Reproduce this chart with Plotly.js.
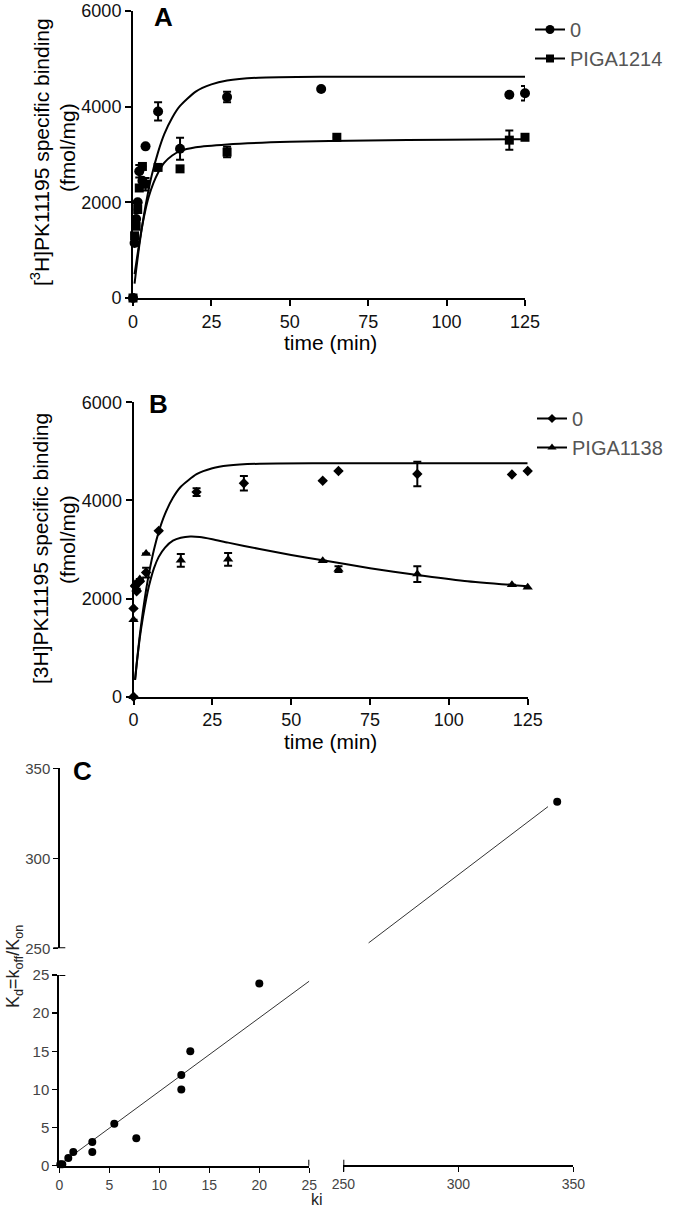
<!DOCTYPE html>
<html>
<head>
<meta charset="utf-8">
<script src="https://cdn.plot.ly/plotly-3.0.1.min.js"></script>
<style>
  html, body { margin: 0; padding: 0; background: #fff; }
  #chart { width: 675px; height: 1209px; }
</style>
</head>
<body>
<div id="chart"></div>
<script>
// ---------------- DATA ----------------
const timeTicks = [0, 25, 50, 75, 100, 125];
const bindTicks = [0, 2000, 4000, 6000];

// Panel A
const a0Name = '0';
const a0Time = [0, 0.5, 1, 1.5, 2, 3, 4, 8, 15, 30, 60, 120, 125];
const a0Bind = [0, 1150, 1650, 2000, 2650, 2450, 3170, 3900, 3120, 4200, 4370, 4250, 4280];
const a0Err  = [null, null, null, null, 130, null, null, 190, 230, 110, null, null, 150];
const a1Name = 'PIGA1214';
const a1Time = [0, 0.5, 1, 1.5, 2, 3, 4, 8, 15, 30, 65, 120, 125];
const a1Bind = [0, 1300, 1500, 1850, 2300, 2750, 2380, 2730, 2700, 3050, 3360, 3300, 3360];
const a1Err  = [null, null, null, null, null, null, 130, null, null, 110, null, 200, null];
const a0FitTime = [0.5, 1, 2, 3, 4, 5, 6, 8, 10, 12.5, 15, 20, 25, 30, 40, 60, 125];
const a0FitBind = [300, 585, 1095, 1540, 1930, 2270, 2570, 3050, 3430, 3770, 4015, 4315, 4465, 4545, 4605, 4625, 4626];
const a1FitTime = [0.5, 1, 2, 3, 4, 5, 6.5, 8, 10, 12.5, 15, 20, 30, 50, 75, 100, 125];
const a1FitBind = [500, 720, 1150, 1530, 1850, 2110, 2400, 2620, 2830, 2980, 3070, 3150, 3210, 3265, 3295, 3310, 3320];

// Panel B
const b0Name = '0';
const b0Time = [0, 0, 0.5, 1, 2, 4, 8, 20, 35, 60, 65, 90, 120, 125];
const b0Bind = [0, 1800, 2250, 2150, 2350, 2530, 3380, 4170, 4350, 4400, 4600, 4540, 4530, 4600];
const b0Err  = [null, null, null, null, null, 100, null, 80, 150, null, null, 250, null, null];
const b1Name = 'PIGA1138';
const b1Time = [0, 0, 0.5, 1, 2, 4, 15, 30, 60, 65, 90, 120, 125];
const b1Bind = [0, 1570, 2300, 2200, 2400, 2920, 2780, 2800, 2770, 2600, 2500, 2280, 2230];
const b1Err  = [null, null, null, null, null, null, 130, 130, null, 60, 160, null, null];
const b0FitTime = [0.5, 1, 2, 3, 4, 5, 6.5, 8, 10, 12.5, 15, 20, 25, 30, 40, 60, 125];
const b0FitBind = [350, 675, 1255, 1750, 2180, 2545, 3000, 3360, 3725, 4055, 4280, 4535, 4655, 4710, 4748, 4757, 4758];
const b1FitTime = [0.5, 1, 2, 3, 4, 5, 6.5, 8, 10, 12.5, 15, 18, 21, 25, 30, 40, 50, 60, 75, 90, 105, 125];
const b1FitBind = [340, 650, 1200, 1620, 1980, 2280, 2620, 2850, 3040, 3180, 3240, 3265, 3255, 3210, 3140, 3010, 2890, 2780, 2620, 2480, 2360, 2250];

// Panel C
const kiLow  = [0.1, 0.3, 0.9, 1.4, 3.3, 3.3, 5.5, 7.7, 12.2, 12.2, 13.1, 20.0];
const kdLow  = [0.2, 0.2, 1.0, 1.8, 3.1, 1.8, 5.5, 3.6, 11.9, 10.0, 15.0, 23.9];
const kiHigh = [343];
const kdHigh = [331.4];
const fitKiLow  = [0, 25];
const fitKdLow  = [0.1, 24.2];
const fitKiHigh = [261, 339];
const fitKdHigh = [253, 328.7];
const kiTicksLow  = [0, 5, 10, 15, 20, 25];
const kdTicksLow  = [0, 5, 10, 15, 20, 25];
const kiTicksHigh = [250, 300, 350];
const kdTicksHigh = [250, 300, 350];

// ---------------- LAYOUT HELPERS ----------------
const W = 675, H = 1209;
const px = v => v / W;
const py = v => 1 - v / H;
const FONT = '"Liberation Sans", Arial, sans-serif';

function errObj(arr) {
  return { type: 'data', array: arr, visible: true, color: '#000', thickness: 2, width: 4 };
}
function pts(x, y, err, sym, size, xa, ya) {
  const t = { x: x, y: y, mode: 'markers', type: 'scatter', showlegend: false, cliponaxis: false,
    marker: { symbol: sym, size: size, color: '#000' }, xaxis: xa, yaxis: ya };
  if (err) t.error_y = errObj(err);
  return t;
}
function fit(x, y, xa, ya) {
  return { x: x, y: y, mode: 'lines', type: 'scatter', showlegend: false, cliponaxis: false,
    line: { color: '#000', width: 2, shape: 'spline', smoothing: 0.6 }, xaxis: xa, yaxis: ya };
}
function leg(name, sym, size, lg) {
  return { x: [null], y: [null], mode: 'lines+markers', type: 'scatter', name: name, legend: lg,
    line: { color: '#000', width: 2 }, marker: { symbol: sym, size: size, color: '#000' },
    xaxis: lg === 'legend' ? 'x' : 'x2', yaxis: lg === 'legend' ? 'y' : 'y2' };
}

const traces = [
  // A
  fit(a0FitTime, a0FitBind, 'x', 'y'),
  fit(a1FitTime, a1FitBind, 'x', 'y'),
  pts(a0Time, a0Bind, a0Err, 'circle', 10, 'x', 'y'),
  pts(a1Time, a1Bind, a1Err, 'square', 9, 'x', 'y'),
  leg(a0Name, 'circle', 9, 'legend'),
  leg(a1Name, 'square', 8, 'legend'),
  // B
  fit(b0FitTime, b0FitBind, 'x2', 'y2'),
  fit(b1FitTime, b1FitBind, 'x2', 'y2'),
  pts(b0Time, b0Bind, b0Err, 'diamond', 8, 'x2', 'y2'),
  pts(b1Time, b1Bind, b1Err, 'triangle-up', 9, 'x2', 'y2'),
  leg(b0Name, 'diamond', 7, 'legend2'),
  leg(b1Name, 'triangle-up', 8, 'legend2'),
  // C
  { x: fitKiLow, y: fitKdLow, mode: 'lines', type: 'scatter', showlegend: false,
    line: { color: '#333', width: 1 }, xaxis: 'x3', yaxis: 'y3' },
  { x: fitKiHigh, y: fitKdHigh, mode: 'lines', type: 'scatter', showlegend: false,
    line: { color: '#333', width: 1 }, xaxis: 'x4', yaxis: 'y4' },
  pts(kiLow, kdLow, null, 'circle', 8, 'x3', 'y3'),
  pts(kiHigh, kdHigh, null, 'circle', 8, 'x4', 'y4')
];

function axis(extra) {
  return Object.assign({
    ticks: 'outside', ticklen: 6, tickwidth: 2, tickcolor: '#000',
    showline: true, linewidth: 2, linecolor: '#000',
    showgrid: false, zeroline: false, fixedrange: true,
    tickfont: { family: FONT, size: 18, color: '#111' }
  }, extra);
}
const cTick = { family: FONT, size: 15, color: '#444' };
const cTickX = { family: FONT, size: 14, color: '#444' };

function note(text, x, y, size, extra) {
  return Object.assign({ text: text, x: px(x), y: py(y), xref: 'paper', yref: 'paper', showarrow: false,
    xanchor: 'center', yanchor: 'middle', font: { family: FONT, size: size, color: '#000' } }, extra || {});
}

const layout = {
  width: W, height: H,
  margin: { l: 0, r: 0, t: 0, b: 0 },
  paper_bgcolor: '#fff', plot_bgcolor: 'rgba(0,0,0,0)',
  font: { family: FONT, color: '#000' },
  xaxis:  axis({ domain: [px(133), px(525)], range: [0, 125], tickvals: timeTicks, anchor: 'y' }),
  yaxis:  axis({ domain: [py(298), py(11)], range: [0, 6000], tickvals: bindTicks, anchor: 'x' }),
  xaxis2: axis({ domain: [px(133.5), px(527.7)], range: [0, 125], tickvals: timeTicks, anchor: 'y2' }),
  yaxis2: axis({ domain: [py(696.7), py(402.3)], range: [0, 6000], tickvals: bindTicks, anchor: 'x2' }),
  xaxis3: axis({ domain: [px(59.3), px(309.3)], range: [0, 25], tickvals: kiTicksLow, anchor: 'y3',
                 ticklen: 5, tickwidth: 1.5, tickfont: cTickX }),
  yaxis3: axis({ domain: [py(1165.7), py(975)], range: [0, 25], tickvals: kdTicksLow, anchor: 'x3',
                 ticklen: 5, tickwidth: 1.5, tickfont: cTick }),
  xaxis4: axis({ domain: [px(343.3), px(573.3)], range: [250, 350], tickvals: kiTicksHigh, anchor: 'free',
                 position: py(1165.7), ticklen: 5, tickwidth: 1.5, tickfont: cTickX }),
  yaxis4: axis({ domain: [py(948.3), py(768.3)], range: [250, 350], tickvals: kdTicksHigh, anchor: 'free',
                 position: px(59.3), ticklen: 5, tickwidth: 1.5, tickfont: cTick }),
  legend: { x: px(530), y: py(10), xanchor: 'left', yanchor: 'top', bgcolor: 'rgba(0,0,0,0)',
            font: { family: FONT, size: 20, color: '#555' }, tracegroupgap: 0 },
  legend2: { x: px(532), y: py(399), xanchor: 'left', yanchor: 'top', bgcolor: 'rgba(0,0,0,0)',
             font: { family: FONT, size: 20, color: '#555' }, tracegroupgap: 0 },
  shapes: [
    { type: 'line', xref: 'x3', yref: 'y3', xsizemode: 'pixel', xanchor: 0, x0: -6, x1: 6, y0: 25, y1: 25,
      line: { color: '#000', width: 2 } },
    { type: 'line', xref: 'x3', yref: 'y3', ysizemode: 'pixel', yanchor: 0, y0: -6, y1: 6, x0: 25, x1: 25,
      line: { color: '#000', width: 2 } },
    { type: 'line', xref: 'x4', yref: 'paper', ysizemode: 'pixel', yanchor: py(1165.7), y0: -6, y1: 6, x0: 250, x1: 250,
      line: { color: '#000', width: 2 } },
    { type: 'line', xref: 'paper', yref: 'y4', xsizemode: 'pixel', xanchor: px(59.3), x0: -6, x1: 6, y0: 250, y1: 250,
      line: { color: '#000', width: 2 } }
  ],
  annotations: [
    note('<b>A</b>', 163, 17, 26),
    note('<b>B</b>', 158, 404, 26),
    note('<b>C</b>', 82, 771, 26),
    note('time (min)', 330, 342, 21),
    note('time (min)', 330, 741, 21),
    note('[<sup>3</sup>H]PK11195 specific binding', 40, 152, 21, { textangle: -90 }),
    note('(fmol/mg)', 67, 148, 21, { textangle: -90 }),
    note('[3H]PK11195 specific binding', 40, 549, 21, { textangle: -90 }),
    note('(fmol/mg)', 67, 540, 21, { textangle: -90 }),
    note('ki', 317, 1209, 16, { yanchor: 'bottom', borderpad: 0, font: { family: FONT, size: 16, color: '#222' } }),
    note('K<sub>d</sub>=k<sub>off</sub>/K<sub>on</sub>', 14, 967, 18,
         { textangle: -90, font: { family: FONT, size: 18, color: '#222' } })
  ]
};

Plotly.newPlot('chart', traces, layout, { displayModeBar: false, staticPlot: true });
</script>
</body>
</html>
